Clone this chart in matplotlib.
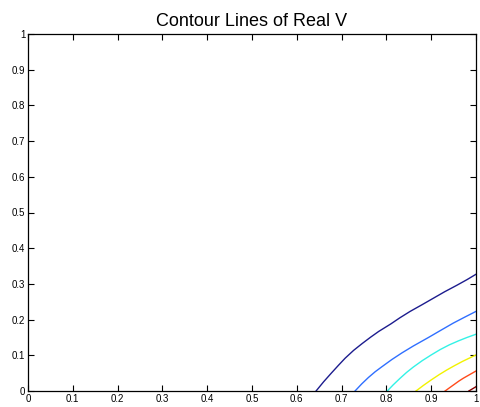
import matplotlib
matplotlib.use("Agg")
import matplotlib.pyplot as plt

plt.rcParams['font.family'] = ['Liberation Sans', 'DejaVu Sans']

title = "Contour Lines of Real V"
xticks = [0, 0.1, 0.2, 0.3, 0.4, 0.5, 0.6, 0.7, 0.8, 0.9, 1]
yticks = [0, 0.1, 0.2, 0.3, 0.4, 0.5, 0.6, 0.7, 0.8, 0.9, 1]
tick_labels = ["0", "0.1", "0.2", "0.3", "0.4", "0.5", "0.6", "0.7", "0.8", "0.9", "1"]

# contour lines (x, y points)
c1_x = [0.643, 0.660, 0.677, 0.693, 0.708, 0.727, 0.746, 0.765, 0.783, 0.810, 0.830, 0.853, 0.880, 0.905, 0.930, 0.957, 0.980, 1.0]
c1_y = [0.0, 0.026, 0.050, 0.072, 0.092, 0.114, 0.133, 0.151, 0.167, 0.188, 0.205, 0.223, 0.242, 0.260, 0.278, 0.296, 0.312, 0.327]
c2_x = [0.730, 0.745, 0.760, 0.775, 0.790, 0.812, 0.835, 0.860, 0.894, 0.920, 0.949, 0.975, 1.0]
c2_y = [0.0, 0.020, 0.038, 0.054, 0.068, 0.088, 0.107, 0.126, 0.150, 0.169, 0.190, 0.207, 0.223]
c3_x = [0.802, 0.815, 0.830, 0.845, 0.860, 0.880, 0.900, 0.920, 0.940, 0.960, 0.980, 1.0]
c3_y = [0.0, 0.017, 0.035, 0.052, 0.067, 0.085, 0.101, 0.116, 0.129, 0.140, 0.150, 0.159]
c4_x = [0.866, 0.883, 0.900, 0.918, 0.935, 0.952, 0.970, 0.985, 1.0]
c4_y = [0.0, 0.016, 0.031, 0.046, 0.059, 0.071, 0.083, 0.092, 0.101]
c5_x = [0.931, 0.942, 0.952, 0.962, 0.972, 0.986, 1.0]
c5_y = [0.0, 0.010, 0.019, 0.028, 0.036, 0.046, 0.056]
c6_x = [0.984, 0.992, 1.0]
c6_y = [0.0, 0.006, 0.012]

colors = ['#1c1c8e', '#2f6fff', '#33f2e6', '#f2f200', '#ff4a1a', '#8a0000']

fig = plt.figure(figsize=(4.8, 4.07), dpi=100)
ax = fig.add_axes([28/480, 16/407, 448/480, 357/407])

for (xs, ys), c in zip([(c1_x, c1_y), (c2_x, c2_y), (c3_x, c3_y),
                        (c4_x, c4_y), (c5_x, c5_y), (c6_x, c6_y)], colors):
    ax.plot(xs, ys, color=c, lw=1.0)

ax.set_xlim(0, 1)
ax.set_ylim(0, 1)
ax.set_xticks(xticks)
ax.set_yticks(yticks)
ax.set_xticklabels(tick_labels)
ax.set_yticklabels(tick_labels)
ax.tick_params(direction='in', length=4, width=0.8, labelsize=7,
               top=True, right=True, pad=2)
for s in ax.spines.values():
    s.set_linewidth(0.9)
ax.set_title(title, fontsize=13, pad=6)

fig.savefig("out.png", dpi=100)
